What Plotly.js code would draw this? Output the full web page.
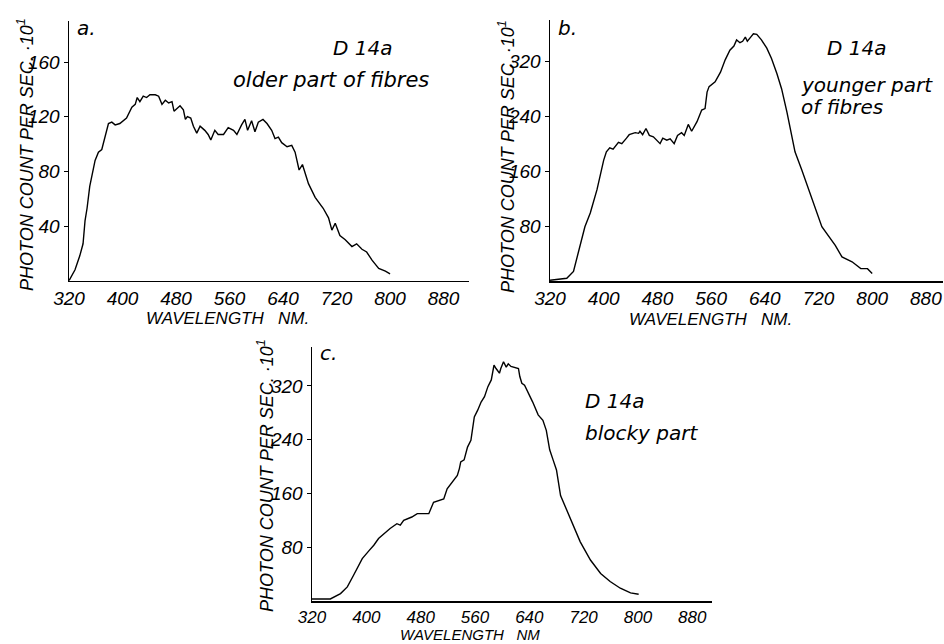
<!DOCTYPE html>
<html>
<head>
<meta charset="utf-8">
<script src="https://cdn.plot.ly/plotly-3.0.1.min.js"></script>
<style>html,body{margin:0;padding:0;background:#fff;}#chart{width:944px;height:644px;}</style>
</head>
<body>
<div id="chart"></div>
<script>
// ---- Data ----
const waveA = [320,322,329,336,341,344,347,351,356,359,364,369,379,384,389,396,406,414,419,422,426,431,436,441,449,454,459,464,469,474,477,481,486,491,494,497,502,506,511,516,523,528,532,538,543,551,558,566,571,578,583,587,593,598,603,610,616,623,628,633,638,646,653,658,664,669,678,688,700,708,713,718,725,733,743,750,758,765,773,783,793,800];
const countA = [0,2,8,18,27,44,53,69,80,88,94,96,115,116,114,115,119,127,129,134,131,135,134,136,136,135,129,132,130,131,124,126,128,125,118,120,119,113,108,113,110,107,103,110,107,107,112,110,107,114,118,110,117,109,116,118,115,110,104,105,101,98,99,94,81,85,71,61,53,46,37,42,33,30,25,27,23,21,15,9,7,5];

const waveB = [320,345,355,365,372,380,390,400,404,409,414,422,427,434,438,447,452,454,458,463,468,474,479,484,488,494,499,505,510,516,520,526,531,539,546,551,554,557,566,574,581,588,594,598,603,607,611,614,619,623,628,635,643,650,658,665,673,680,685,695,710,725,745,755,770,783,793,800];
const countB = [1,4,14,50,79,99,133,176,188,194,192,202,200,208,213,216,215,218,213,222,212,210,205,200,208,205,207,200,212,216,212,228,218,232,249,251,275,283,290,304,322,336,342,351,347,349,355,349,355,360,359,351,339,324,302,280,246,212,188,162,122,79,52,35,28,18,18,11];

const waveC = [320,347,362,372,381,386,394,404,411,418,426,435,445,450,455,467,475,492,499,514,519,534,537,539,544,549,554,559,564,569,574,579,584,588,591,596,598,602,606,609,613,618,624,626,629,633,638,645,653,660,665,670,675,680,686,701,715,730,745,759,774,789,801];
const countC = [3,3,11,21,38,48,63,75,83,93,100,108,115,113,120,125,130,130,147,152,167,187,197,207,210,229,239,274,284,296,304,319,329,351,346,339,346,356,348,353,349,348,346,334,324,321,311,296,277,269,254,225,210,195,157,120,88,61,41,29,19,12,10];

const xTicks = [320,400,480,560,640,720,800,880];
const yTicksA = [40,80,120,160];
const yTicksBC = [80,160,240,320];

const panelLabels = ["a.","b.","c."];
const sampleName = "D 14a";
const descA = "older part of fibres";
const descB = ["younger part","of fibres"];
const descC = "blocky part";
const yTitle = "PHOTON COUNT PER SEC. ·10<sup>1</sup>";
const xTitleAB = "WAVELENGTH\u00a0\u00a0 NM.";
const xTitleC = "WAVELENGTH\u00a0\u00a0 NM";

// ---- Layout helpers ----
const W = 944, H = 644;
const px = x => x / W;
const py = y => 1 - y / H;

const fam = "Liberation Sans, Arial, sans-serif";
const tickFont = {family: fam, size: 19, color: "#000", style: "italic"};
const tickFontC = {family: fam, size: 17, color: "#000", style: "italic"};
const titleFont = {family: fam, size: 18, color: "#000", style: "italic"};
const titleFontX = {family: fam, size: 17, color: "#000", style: "italic"};
const titleFontC = {family: fam, size: 15, color: "#000", style: "italic"};
const annFont = {family: "DejaVu Sans, sans-serif", size: 20, color: "#000", style: "italic"};
const annFontWide = {family: "DejaVu Sans, sans-serif", size: 21, color: "#000", style: "italic"};

const lineStyle = {color: "#000", width: 1.4};

const traces = [
  {x: waveA, y: countA, type: "scatter", mode: "lines", line: lineStyle, xaxis: "x", yaxis: "y", hoverinfo: "x+y"},
  {x: waveB, y: countB, type: "scatter", mode: "lines", line: lineStyle, xaxis: "x2", yaxis: "y2", hoverinfo: "x+y"},
  {x: waveC, y: countC, type: "scatter", mode: "lines", line: lineStyle, xaxis: "x3", yaxis: "y3", hoverinfo: "x+y"}
];

function xAxis(dom, rng, yanchor, tf) {
  return {domain: dom, range: rng, anchor: yanchor, showline: true, linecolor: "#000", linewidth: 1.5,
    showgrid: false, zeroline: false, ticks: "", ticklen: 0, tickvals: xTicks, ticktext: xTicks.map(String),
    tickfont: tf || tickFont, automargin: false, fixedrange: true};
}
function yAxis(dom, rng, xanchor, tv) {
  return {domain: dom, range: rng, anchor: xanchor, showline: true, linecolor: "#000", linewidth: 1.5,
    showgrid: false, zeroline: false, ticks: "outside", ticklen: 4, tickwidth: 1, tickcolor: "#000",
    tickvals: tv, ticktext: tv.map(String), tickfont: tickFont, automargin: false, fixedrange: true};
}

function ann(text, x, y, opts) {
  return Object.assign({text: text, x: px(x), y: py(y), xref: "paper", yref: "paper",
    showarrow: false, font: annFont, xanchor: "left", yanchor: "middle"}, opts || {});
}

const annotations = [
  ann(panelLabels[0], 75, 28),
  ann(sampleName, 362, 48, {xanchor: "center"}),
  ann(descA, 331, 80, {xanchor: "center", font: annFontWide}),
  ann(panelLabels[1], 556, 28),
  ann(sampleName, 825, 48),
  ann(descB[0], 799, 85),
  ann(descB[1], 799, 107),
  ann(panelLabels[2], 318, 353),
  ann(sampleName, 583, 401),
  ann(descC, 583, 433),
  // axis titles
  ann(yTitle, 25, 155, {xanchor: "center", textangle: -90, font: titleFont}),
  ann(yTitle, 506, 157, {xanchor: "center", textangle: -90, font: titleFont}),
  ann(yTitle, 266, 476, {xanchor: "center", textangle: -90, font: titleFont}),
  ann(xTitleAB, 227, 308, {xanchor: "center", yanchor: "top", font: titleFontX, borderpad: 0}),
  ann(xTitleAB, 710, 309, {xanchor: "center", yanchor: "top", font: titleFontX, borderpad: 0}),
  ann(xTitleC, 470, 644, {xanchor: "center", yanchor: "bottom", font: titleFontC, borderpad: 0})
];

const layout = {
  width: W, height: H,
  margin: {l: 0, r: 0, t: 0, b: 0},
  paper_bgcolor: "#fff", plot_bgcolor: "#fff",
  showlegend: false,
  xaxis:  xAxis([px(69), px(469)], [320, 918], "y"),
  yaxis:  yAxis([py(280.7), py(21)], [0, 190], "x", yTicksA),
  xaxis2: xAxis([px(550), px(943)], [320, 905.5], "y2"),
  yaxis2: yAxis([py(281), py(20)], [0, 380], "x2", yTicksBC),
  xaxis3: xAxis([px(312), px(712)], [320, 909], "y3", tickFontC),
  yaxis3: yAxis([py(601), py(347)], [0, 378], "x3", yTicksBC),
  annotations: annotations
};

Plotly.newPlot("chart", traces, layout, {displayModeBar: false, staticPlot: true});
</script>
</body>
</html>
